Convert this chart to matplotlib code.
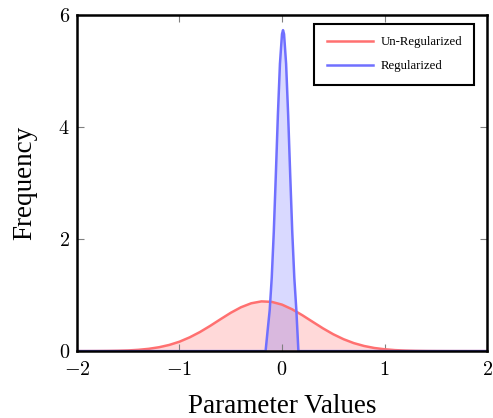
import matplotlib.pyplot as plt

plt.rcParams['font.family'] = ['Liberation Serif', 'DejaVu Serif']
plt.rcParams['mathtext.fontset'] = 'cm'

# Un-regularized parameter distribution
x_unreg = [-2.0, -1.9, -1.8, -1.7, -1.6, -1.5, -1.4, -1.3, -1.2, -1.1, -1.0,
           -0.9, -0.8, -0.7, -0.6, -0.5, -0.4, -0.3, -0.2, -0.1, 0.0,
           0.1, 0.2, 0.3, 0.4, 0.5, 0.6, 0.7, 0.8, 0.9, 1.0,
           1.1, 1.2, 1.3, 1.4, 1.5, 1.6, 1.7, 1.8, 1.9, 2.0]
y_unreg = [0.0003, 0.0006, 0.0015, 0.0031, 0.0064, 0.012, 0.023, 0.041, 0.069, 0.110, 0.168,
           0.246, 0.341, 0.451, 0.569, 0.684, 0.783, 0.854, 0.888, 0.879, 0.830,
           0.746, 0.639, 0.522, 0.406, 0.301, 0.213, 0.143, 0.092, 0.056, 0.033,
           0.018, 0.0096, 0.0048, 0.0023, 0.0011, 0.0005, 0.0002, 0.0001, 0.0, 0.0]

# Regularized parameter distribution
x_reg = [-2.0, -0.16, -0.14, -0.12, -0.10, -0.08, -0.06, -0.04, -0.02, 0.0, 0.01,
         0.02, 0.04, 0.06, 0.08, 0.10, 0.12, 0.14, 0.16, 2.0]
y_reg = [0.0, 0.0, 0.37, 0.73, 1.31, 2.13, 3.15, 4.22, 5.13, 5.66, 5.73,
         5.66, 5.13, 4.22, 3.15, 2.13, 1.31, 0.73, 0.0, 0.0]

xticks = [-2, -1, 0, 1, 2]
yticks = [0, 2, 4, 6]

fig = plt.figure(figsize=(4.93, 4.18), dpi=100)
ax = fig.add_axes([0.156, 0.160, 0.832, 0.804])

red = '#ff7070'
blue = '#7070ff'
ax.fill_between(x_unreg, y_unreg, 0, color='#ff0000', alpha=0.15, linewidth=0)
ax.fill_between(x_reg, y_reg, 0, color='#0000ff', alpha=0.15, linewidth=0)
ax.plot(x_unreg, y_unreg, color=red, lw=1.8, label='Un-Regularized')
ax.plot(x_reg, y_reg, color=blue, lw=1.8, label='Regularized')

ax.set_xlim(-2, 2)
ax.set_ylim(0, 6)
ax.set_xticks(xticks)
ax.set_xticklabels([f'${v}$' for v in xticks])
ax.set_yticks(yticks)
ax.set_yticklabels([f'${v}$' for v in yticks])
ax.tick_params(direction='in', length=5, width=0.8, color='#808080',
               labelsize=14.5, top=True, right=True)
ax.tick_params(axis='x', pad=7)
ax.tick_params(axis='y', pad=5)
for s in ax.spines.values():
    s.set_linewidth(1.8)

ax.set_xlabel('Parameter Values', fontsize=19.5, labelpad=10)
ax.set_ylabel('Frequency', fontsize=19.5, labelpad=15)

leg = ax.legend(loc='upper right', bbox_to_anchor=(0.968, 0.973), fontsize=9.2,
                fancybox=False, edgecolor='black', framealpha=1,
                handlelength=3.6, handletextpad=0.6, borderpad=0.95,
                labelspacing=0.95, borderaxespad=0)
leg.get_frame().set_linewidth(1.5)

fig.savefig('out.png', dpi=100)
